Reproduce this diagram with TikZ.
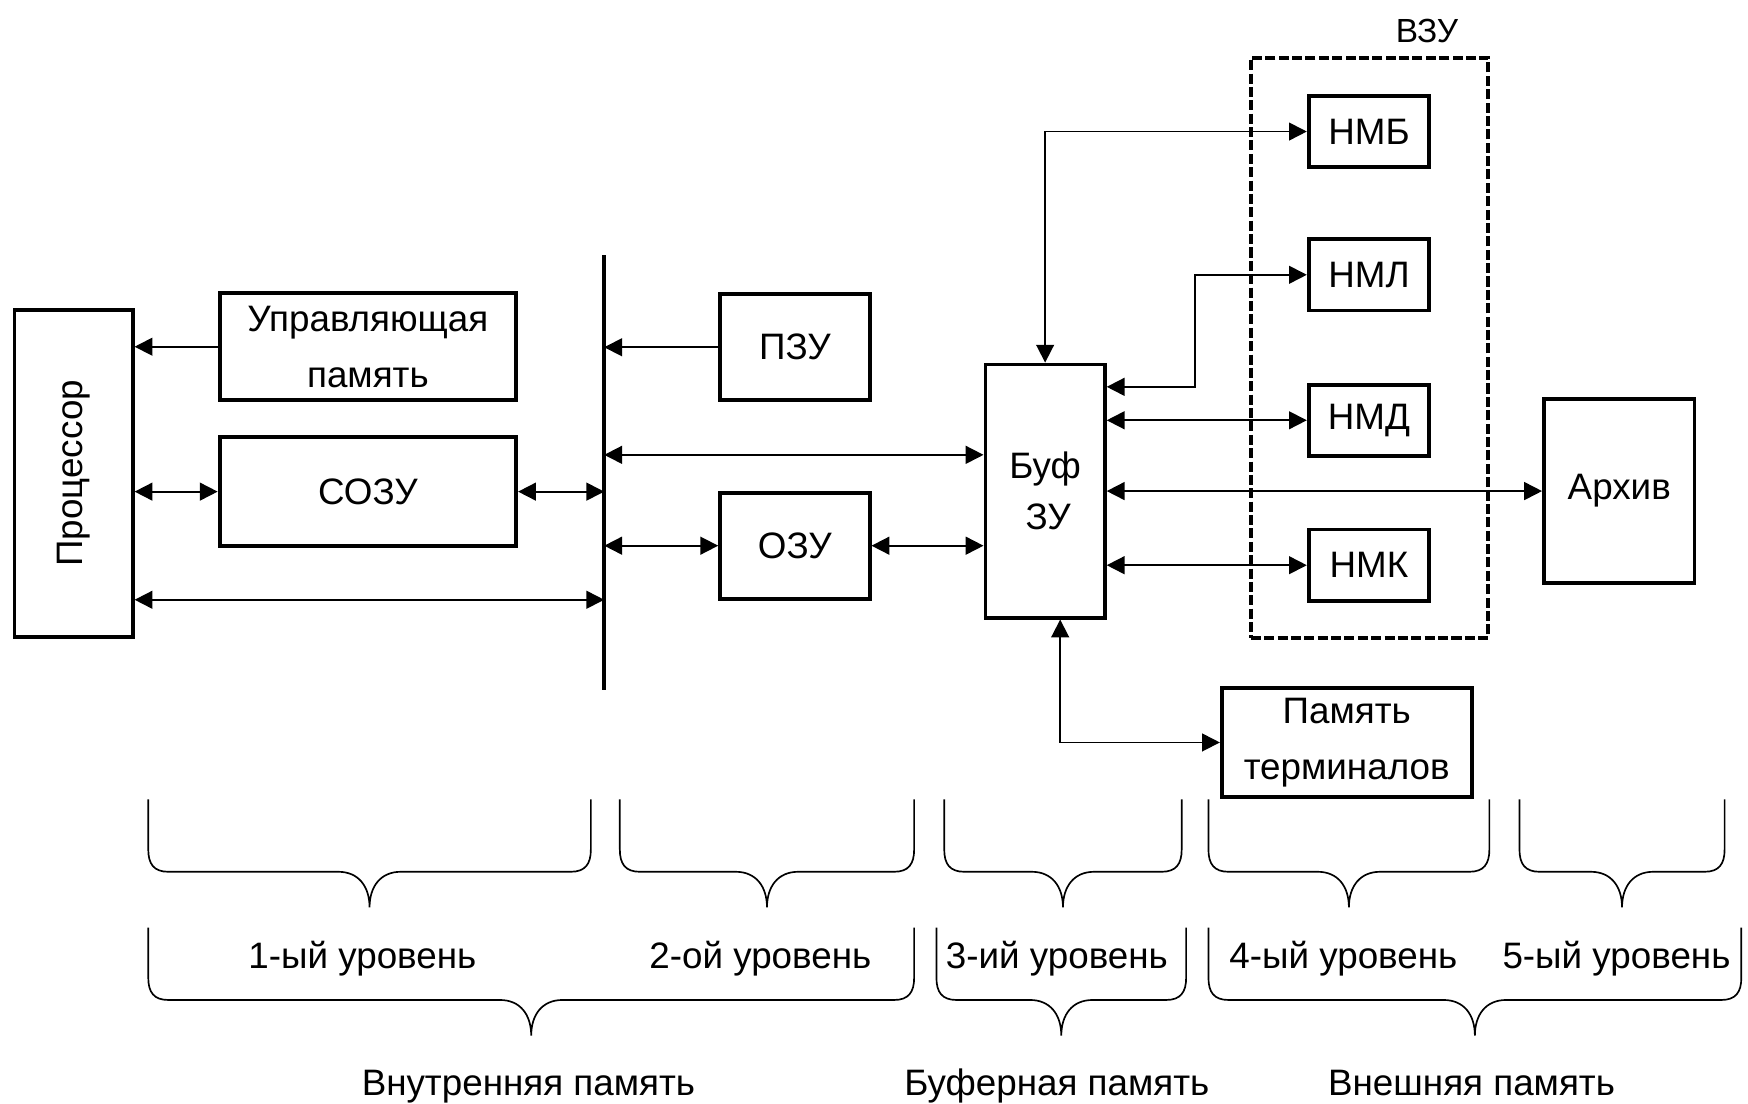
\documentclass[tikz,border=0pt]{standalone}
\usepackage{fontspec}
\setmainfont{Liberation Sans}
\usetikzlibrary{
  arrows.meta,
  positioning,
}

% curly bracket under a group of levels: open top, tip pointing down
\newcommand{\lvlbrace}[3]{%
  \draw[brace] (#1,#3) -- (#1,{#3+45})
    .. controls (#1,{#3+58}) and ({#1+5},{#3+65}) .. ({#1+18},{#3+65})
    -- ({(#1+#2)/2-28},{#3+65})
    .. controls ({(#1+#2)/2-10},{#3+65}) and ({(#1+#2)/2},{#3+78}) .. ({(#1+#2)/2},{#3+97})
    .. controls ({(#1+#2)/2},{#3+78}) and ({(#1+#2)/2+10},{#3+65}) .. ({(#1+#2)/2+28},{#3+65})
    -- ({#2-18},{#3+65})
    .. controls ({#2-5},{#3+65}) and (#2,{#3+58}) .. (#2,{#3+45}) -- (#2,#3);}

\begin{document}
\begin{tikzpicture}[
    x=1pt, y=-1pt,
    every node/.style={font=\fontsize{33}{50}\selectfont},
    blk/.style={draw, line width=3.5pt, inner sep=0pt, align=center},
    link/.style={line width=1.6pt},
    arr/.style={link, -{Triangle[length=16pt,width=16pt]}},
    arr2/.style={link, {Triangle[length=16pt,width=16pt]}-{Triangle[length=16pt,width=16pt]}},
    brace/.style={line width=1.5pt},
  ]
  \useasboundingbox (0,0) rectangle (1568,990);

  % inner memory (proc is turned: its south side faces right)
  \node[blk, rotate=90, minimum width=293pt, minimum height=106pt] (proc) at (66,424.5) {Процессор};
  \node[blk, minimum width=266pt, minimum height=96pt] (upr) at (330,311) {Управляющая\\память};
  \node[blk, minimum width=266pt, minimum height=98pt] (sozu) at (330,441) {СОЗУ};
  \node[blk, minimum width=134pt, minimum height=95pt] (pzu) at (713,311.5) {ПЗУ};
  \node[blk, minimum width=134pt, minimum height=95pt] (ozu) at (713,489.5) {ОЗУ};

  \coordinate (bustop) at (542,229);
  \coordinate (busbot) at (542,619);
  \coordinate (lowbus) at (542,538);
  \coordinate (midbus) at (542,408);
  \draw[line width=3.5pt] (bustop) -- (busbot);

  % buffer
  \node[blk, minimum width=107pt, minimum height=227pt] (buf) at (937.5,440.5) {Буф\\[-4pt]\,ЗУ};

  % external memory
  \node[draw, line width=3.5pt, dash pattern=on 9pt off 3pt, minimum width=213pt, minimum height=520pt] (vzu) at (1228.5,312) {};
  \node[font=\fontsize{30}{36}\selectfont] (vzulbl) at (1280,28) {ВЗУ};
  \foreach \n/\t/\y in {nmb/НМБ/118, nml/НМЛ/246.5, nmd/НМД/377, nmk/НМК/507}
    \node[blk, minimum width=108pt, minimum height=64pt] (\n) at (1228,\y) {\t};
  \node[blk, minimum width=135pt, minimum height=165pt] (arch) at (1452.5,440.5) {Архив};
  \node[blk, minimum width=224pt, minimum height=98pt] (term) at (1208,666) {Память\\терминалов};

  % links
  \draw[arr] (upr.west) -- (upr.west -| proc.south);
  \draw[arr2] (proc.south |- sozu) -- (sozu.west);
  \draw[arr2] (sozu.east) -- (sozu.east -| bustop);
  \draw[arr2] (proc.south |- lowbus) -- (lowbus);
  \draw[arr] (pzu.west) -- (pzu.west -| bustop);
  \draw[arr2] (midbus) -- (midbus -| buf.west);
  \draw[arr2] (ozu.west -| bustop) -- (ozu.west);
  \draw[arr2] (ozu.east) -- (ozu.east -| buf.west);

  \coordinate (bend) at (1072,347);
  \draw[arr2] (buf.north) |- (nmb.west);
  \draw[arr2] (bend -| buf.east) -- (bend) |- (nml.west);
  \draw[arr2] (nmd.west -| buf.east) -- (nmd.west);
  \draw[arr2] (arch.west -| buf.east) -- (arch.west);
  \draw[arr2] (nmk.west -| buf.east) -- (nmk.west);
  \draw[arr2] ([xshift=13.5pt]buf.south) |- (term.west);

  % levels
  \foreach \a/\b in {133/530, 556/820, 847/1060, 1084/1336, 1363/1547}
    {\lvlbrace{\a}{\b}{717}}
  \foreach \a/\b in {133/820, 840/1064, 1084/1562}
    {\lvlbrace{\a}{\b}{832}}

  \foreach \n/\t/\x in {l1/1-ый уровень/325, l2/2-ой уровень/682, l3/3-ий уровень/948,
                        l4/4-ый уровень/1205, l5/5-ый уровень/1450}
    \node[anchor=base] (\n) at (\x,869) {\t};
  \foreach \n/\t/\x in {inner/Внутренняя память/474, buffer/Буферная память/948,
                        outer/Внешняя память/1320}
    \node[anchor=base] (\n) at (\x,983) {\t};
\end{tikzpicture}
\end{document}
